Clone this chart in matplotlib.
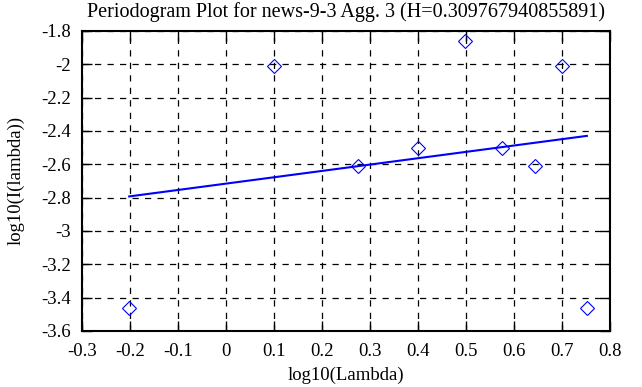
import numpy as np
import matplotlib
matplotlib.use("Agg")
import matplotlib.pyplot as plt
from matplotlib.ticker import FuncFormatter

# periodogram points
log_lambda = [-0.202, 0.099, 0.275, 0.400, 0.497, 0.576, 0.643, 0.701, 0.752]
log_power = [-3.46, -2.01, -2.61, -2.50, -1.86, -2.50, -2.61, -2.01, -3.46]
x_ticks = [-0.3, -0.2, -0.1, 0, 0.1, 0.2, 0.3, 0.4, 0.5, 0.6, 0.7, 0.8]
y_ticks = [-3.6, -3.4, -3.2, -3, -2.8, -2.6, -2.4, -2.2, -2, -1.8]
title = "Periodogram Plot for news-9-3 Agg. 3 (H=0.309767940855891)"

plt.rcParams['font.family'] = ['Liberation Serif', 'DejaVu Serif']
plt.rcParams['axes.unicode_minus'] = False

fig = plt.figure(figsize=(6.42, 3.87), dpi=100)
ax = fig.add_axes([0.128, 0.145, 0.822, 0.775])

x = np.array(log_lambda)
y = np.array(log_power)
slope, intercept = np.polyfit(x, y, 1)
ax.plot(x, intercept + slope * x, color='blue', lw=1.5, zorder=3)
ax.plot(x, y, ls='none', marker='D', ms=7, mfc='none', mec='blue', mew=0.8, zorder=4)

fmt = FuncFormatter(lambda v, p: '%g' % round(v, 6))
ax.set_xlim(-0.3, 0.8)
ax.set_ylim(-3.6, -1.8)
ax.set_xticks(x_ticks)
ax.set_yticks(y_ticks)
ax.xaxis.set_major_formatter(fmt)
ax.yaxis.set_major_formatter(fmt)
ax.grid(True, color='black', ls=(0, (5, 5)), lw=0.9)
ax.tick_params(direction='in', length=7, width=1, top=True, right=True, labelsize=13.5)
ax.tick_params(axis='x', pad=8.5)
ax.tick_params(axis='y', pad=8)
for s in ax.spines.values():
    s.set_linewidth(1.5)

ax.set_xlabel("log10(Lambda)", fontsize=13.5, labelpad=5)
ax.set_ylabel("log10(I(lambda))", fontsize=13.5, labelpad=12)
ax.set_title(title, fontsize=14.5, pad=10)

fig.savefig("out.png", dpi=100)
